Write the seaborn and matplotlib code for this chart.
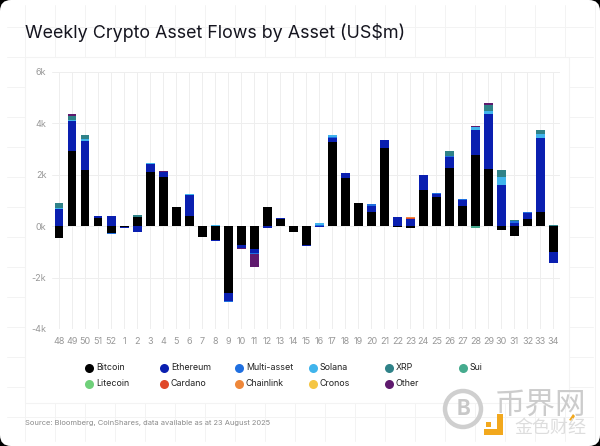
import numpy as np
import pandas as pd
import matplotlib
matplotlib.use("Agg")
import matplotlib.pyplot as plt
from matplotlib.lines import Line2D
from matplotlib.patches import Circle, FancyBboxPatch, Rectangle, Polygon
import seaborn as sns

# weekly flows (US$m)
weeks = ["48","49","50","51","52","1","2","3","4","5","6","7","8","9","10","11","12","13","14","15","16",
         "17","18","19","20","21","22","23","24","25","26","27","28","29","30","31","32","33","34"]
bitcoin = [-450,2900,2180,300,-270,-50,350,2100,1900,720,400,-420,-550,-2600,-750,-880,720,270,-220,-750,0,
           3250,1850,900,550,3020,-20,-80,1380,1140,2250,780,2750,2220,-150,-400,260,530,-1000]
ethereum = [650,1170,1130,70,390,-30,-250,300,180,0,800,0,-20,-330,-120,-150,-70,30,0,-20,-30,
            180,200,0,220,330,350,260,620,100,420,230,980,2130,1600,100,230,2900,-450]
multi_asset = [20,0,0,0,-50,0,0,0,30,0,0,0,0,-30,0,-40,-20,0,0,0,50,
               30,20,0,80,0,0,20,0,30,30,50,0,0,-20,100,70,0,0]
solana = [10,50,80,0,0,0,0,30,0,0,30,-10,40,0,0,0,0,0,0,0,70,
          60,0,0,0,0,0,0,0,0,0,0,100,100,300,0,0,140,0]
xrp = [200,150,150,0,0,0,70,0,0,0,0,0,0,0,0,0,0,0,0,0,0,
       0,0,0,0,0,0,0,0,0,200,0,0,260,280,20,0,160,20]
sui = [0,0,0,0,0,0,0,0,0,0,0,0,0,0,0,0,0,0,0,0,0,
       0,0,0,0,0,0,0,0,0,0,0,-80,0,0,0,0,0,0]
litecoin = [0]*39
cardano = [0,0,0,0,0,0,0,0,0,0,0,0,0,0,0,0,0,0,0,0,0,
           0,0,0,0,0,0,30,0,0,0,0,0,0,0,0,0,0,0]
chainlink = [0,0,0,0,0,0,0,0,0,0,0,0,0,0,0,0,0,0,0,0,0,
             0,0,0,0,0,0,30,0,0,0,0,0,0,0,0,0,0,0]
cronos = [0]*39
other = [0,80,0,0,0,0,0,0,30,30,0,0,0,0,-30,-510,0,0,0,0,0,
         0,0,0,0,0,0,0,0,0,0,0,40,80,0,0,0,0,30]

names = ["Bitcoin","Ethereum","Multi-asset","Solana","XRP","Sui","Litecoin","Cardano","Chainlink","Cronos","Other"]
values = [bitcoin,ethereum,multi_asset,solana,xrp,sui,litecoin,cardano,chainlink,cronos,other]
colors = ["#000000","#0a1fb0","#1f6fe0","#40b4ec","#2f8288","#45ab8e","#6fd07a","#e0482a","#ee873a","#f5c644","#5f1a6e"]

W, H = 600, 446
sns.set_theme(style="white")
plt.rcParams["font.family"] = ["Inter", "Noto Sans CJK SC", "DejaVu Sans"]

fig = plt.figure(figsize=(W/100, H/100), dpi=100, facecolor="black")
tf = fig.transFigure

# page with rounded corners
fig.add_artist(FancyBboxPatch((0, 0), 6.0, 4.46, boxstyle="round,pad=0,rounding_size=0.11",
                              transform=fig.dpi_scale_trans, fc="white", ec="none", zorder=-6))

# faint page grid behind the card
for px in range(25, 600, 30):
    fig.add_artist(Line2D([px/W, px/W], [0.012, 0.988], color="#f3f3f3", lw=0.7, zorder=-5))
for py in range(27, 446, 30):
    fig.add_artist(Line2D([0.012, 0.988], [1-py/H, 1-py/H], color="#f3f3f3", lw=0.7, zorder=-5))
fig.add_artist(Rectangle((25/W, 1-403/H), 544/W, 346/H, transform=tf, fc="white", ec="#f3f3f3", lw=0.8, zorder=-4))

ax = fig.add_axes([52/W, 1-329/H, 508/W, 257.5/H])
ax.set_facecolor("none")

pos_bottom = np.zeros(len(weeks))
neg_bottom = np.zeros(len(weeks))
for name, vals, col in zip(names, values, colors):
    vals = np.array(vals, dtype=float)
    up = np.where(vals > 0, vals, 0)
    down = np.where(vals < 0, vals, 0)
    df = pd.DataFrame({"week": weeks, "up": up, "down": down})
    if up.any():
        sns.barplot(data=df, x="week", y="up", order=weeks, color=col, saturation=1, width=0.68,
                    errorbar=None, bottom=pos_bottom, ax=ax, linewidth=0, zorder=3)
    if down.any():
        sns.barplot(data=df, x="week", y="down", order=weeks, color=col, saturation=1, width=0.68,
                    errorbar=None, bottom=neg_bottom, ax=ax, linewidth=0, zorder=3)
    pos_bottom += up
    neg_bottom += down

ax.set_xlim(-0.54, 38.5)
ax.set_ylim(-4000, 6000)
ax.set_yticks([-4000, -2000, 0, 2000, 4000, 6000])
ax.set_yticklabels(["-4k", "-2k", "0k", "2k", "4k", "6k"])
ax.set_xlabel("")
ax.set_ylabel("")
ax.tick_params(axis="both", length=0, labelsize=6.5, labelcolor="#989898", pad=4)
ax.tick_params(axis="x", pad=6)
ax.grid(True, color="#eeeeee", lw=0.7, zorder=0)
ax.set_axisbelow(True)
sns.despine(ax=ax, left=True, bottom=True, top=True, right=True)

fig.text(25/W, 1-33/H, "Weekly Crypto Asset Flows by Asset (US$m)", fontsize=12.9, color="#15151f", va="center")

# legend laid out as in the picture, two rows of six fixed columns
col_x = [89, 164, 239, 313, 389, 463]
row_y = [368, 384]
for i, (name, col) in enumerate(zip(names, colors)):
    x = col_x[i % 6]
    y = row_y[i // 6]
    fig.add_artist(Line2D([x/W], [1-y/H], marker="o", ms=6.5, color=col, ls="none", mew=0))
    fig.text((x+7)/W, 1-y/H, name, fontsize=6.4, color="#222222", va="center")

fig.text(25/W, 1-423/H, "Source: Bloomberg, CoinShares, data available as at 23 August 2025",
         fontsize=5.4, color="#8a8a8a", va="center")

# watermark
logo = fig.add_axes([0, 0, 1, 1], facecolor="none")
logo.set_xlim(0, W)
logo.set_ylim(H, 0)
logo.axis("off")
logo.add_patch(Circle((463, 409), 18, fc="none", ec="#cfcfcf", lw=3.2))
logo.text(463, 409, "B", fontsize=15, color="#c8c8c8", ha="center", va="center", fontweight="bold")
logo.add_patch(Polygon([(497, 414), (503, 414), (503, 435), (484, 435), (484, 429), (497, 429)], fc="#f2a81d", ec="none"))
logo.add_patch(Rectangle((486, 422), 5, 5, fc="#f2a81d", ec="none"))
logo.add_patch(Polygon([(569, 420), (573, 414), (575, 416), (572, 421)], fc="#f2a81d", ec="none"))
logo.text(541, 407, "币界网", fontsize=22, color="#cccccc", ha="center", va="center")
logo.text(550, 428, "金色财经", fontsize=13, color="#dddddd", ha="center", va="center")

fig.savefig("out.png", dpi=100, facecolor="black")
